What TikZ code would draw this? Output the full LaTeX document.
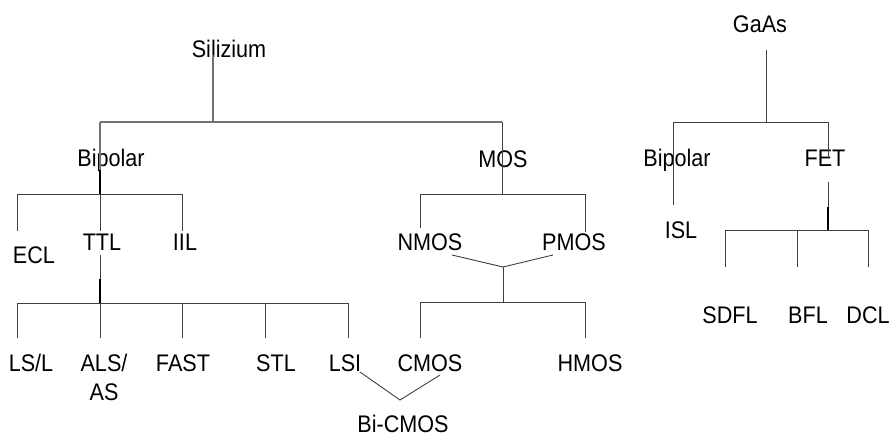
\documentclass[tikz,border=0pt]{standalone}
\usepackage{fontspec}
\setmainfont{Liberation Sans}[FakeStretch=0.9]
\begin{document}
\begin{tikzpicture}[x=1pt,y=-1pt,
  lbl/.style={anchor=base,inner sep=0pt,font=\fontsize{24}{29}\selectfont,text=black},
  branch/.style={draw=black!75,line width=0.9pt},
  trunk/.style={draw=black!55,line width=1.4pt},
  darkseg/.style={draw=black,line width=1.3pt}]
\useasboundingbox (0,0) rectangle (891,436);

% ---------- Silizium ----------
\node[lbl] (si) at (229,57) {Silizium};
\node[lbl] (sibip) at (111,166) {Bipolar};
\node[lbl] (mos) at (503,167) {MOS};
\node[lbl] (ecl) at (34,263) {ECL};
\node[lbl] (ttl) at (102,250) {TTL};
\node[lbl] (iil) at (185,250) {IIL};
\node[lbl] (nmos) at (430,250) {NMOS};
\node[lbl] (pmos) at (574,250) {PMOS};
\node[lbl] (lsl) at (31,371) {LS/L};
\node[lbl,align=center] (als) at (104,400) {ALS/\\AS};
\node[lbl] (fast) at (183,371) {FAST};
\node[lbl] (stl) at (276,371) {STL};
\node[lbl] (lsi) at (345,371) {LSI};
\node[lbl] (cmos) at (430,371) {CMOS};
\node[lbl] (hmos) at (590,371) {HMOS};
\node[lbl] (bicmos) at (403,432) {Bi-CMOS};

% junctions and line ends
\coordinate (si-a) at (213,55);
\coordinate (si-j) at (213,122);
\coordinate (bip-j) at (100,122);
\coordinate (mos-j) at (502,122);
\coordinate (bip-m) at (100,170);
\coordinate (bip-b) at (100,194);
\coordinate (ecl-j) at (17,194);
\coordinate (iil-j) at (182,194);
\coordinate (ecl-e) at (17,231);
\coordinate (ttl-e) at (100,231);
\coordinate (iil-e) at (182,231);
\coordinate (ttl-s) at (100,255);
\coordinate (ttl-m) at (100,279);
\coordinate (ttl-j) at (100,303);
\coordinate (lsl-j) at (17,303);
\coordinate (fast-j) at (182,303);
\coordinate (stl-j) at (265,303);
\coordinate (lsi-j) at (348,303);
\coordinate (lsl-e) at (17,338);
\coordinate (als-e) at (100,338);
\coordinate (fast-e) at (182,338);
\coordinate (stl-e) at (265,338);
\coordinate (lsi-e) at (348,338);
\coordinate (lsi-b) at (360,372);
\coordinate (bi-j) at (400,400);
\coordinate (cmos-b) at (440,375);
\coordinate (mos-b) at (502,194);
\coordinate (nmos-j) at (420,194);
\coordinate (pmos-j) at (585,194);
\coordinate (nmos-e) at (420,228);
\coordinate (pmos-e) at (585,232);
\coordinate (nmos-b) at (452,255);
\coordinate (pmos-b) at (553,255);
\coordinate (np-j) at (503,267);
\coordinate (np-k) at (503,302);
\coordinate (cmos-j) at (420,302);
\coordinate (hmos-j) at (585,302);
\coordinate (cmos-e) at (420,338);
\coordinate (hmos-e) at (585,338);

\draw[trunk] (si-a) -- (si-j);
\draw[trunk] (bip-j) -- (mos-j);
\draw[trunk] (bip-j) -- (bip-m);
\draw[darkseg] (bip-m) -- (bip-b);
\draw[branch] (mos-j) -- (mos-b);
\draw[branch] (ecl-j) -- (iil-j);
\draw[branch] (ecl-j) -- (ecl-e);
\draw[branch] (bip-b) -- (ttl-e);
\draw[branch] (iil-j) -- (iil-e);
\draw[branch] (ttl-s) -- (ttl-m);
\draw[darkseg] (ttl-m) -- (ttl-j);
\draw[branch] (lsl-j) -- (lsi-j);
\draw[branch] (lsl-j) -- (lsl-e);
\draw[branch] (ttl-j) -- (als-e);
\draw[branch] (fast-j) -- (fast-e);
\draw[branch] (stl-j) -- (stl-e);
\draw[branch] (lsi-j) -- (lsi-e);
\draw[branch] (lsi-b) -- (bi-j) -- (cmos-b);
\draw[branch] (nmos-j) -- (pmos-j);
\draw[branch] (nmos-j) -- (nmos-e);
\draw[branch] (pmos-j) -- (pmos-e);
\draw[branch] (nmos-b) -- (np-j) -- (pmos-b);
\draw[branch] (np-j) -- (np-k);
\draw[branch] (cmos-j) -- (hmos-j);
\draw[branch] (cmos-j) -- (cmos-e);
\draw[branch] (hmos-j) -- (hmos-e);

% ---------- GaAs ----------
\node[lbl] (gaas) at (760,33) {GaAs};
\node[lbl] (gabip) at (677,166) {Bipolar};
\node[lbl] (fet) at (825,166) {FET};
\node[lbl] (isl) at (681,238) {ISL};
\node[lbl] (sdfl) at (730,323) {SDFL};
\node[lbl] (bfl) at (808,323) {BFL};
\node[lbl] (dcl) at (868,323) {DCL};

\coordinate (ga-a) at (766,50);
\coordinate (ga-j) at (766,122);
\coordinate (gb-j) at (673,122);
\coordinate (fet-j) at (828,122);
\coordinate (gb-e) at (673,205);
\coordinate (fet-e) at (828,158);
\coordinate (fet-s) at (828,182);
\coordinate (fet-m) at (828,207);
\coordinate (fet-b) at (828,230);
\coordinate (sdfl-j) at (725,230);
\coordinate (bfl-j) at (797,230);
\coordinate (dcl-j) at (868,230);
\coordinate (sdfl-e) at (725,267);
\coordinate (bfl-e) at (797,267);
\coordinate (dcl-e) at (868,267);

\draw[branch] (ga-a) -- (ga-j);
\draw[branch] (gb-j) -- (fet-j);
\draw[branch] (gb-j) -- (gb-e);
\draw[branch] (fet-j) -- (fet-e);
\draw[branch] (fet-s) -- (fet-m);
\draw[darkseg] (fet-m) -- (fet-b);
\draw[branch] (sdfl-j) -- (dcl-j);
\draw[branch] (sdfl-j) -- (sdfl-e);
\draw[branch] (bfl-j) -- (bfl-e);
\draw[branch] (dcl-j) -- (dcl-e);
\end{tikzpicture}
\end{document}
